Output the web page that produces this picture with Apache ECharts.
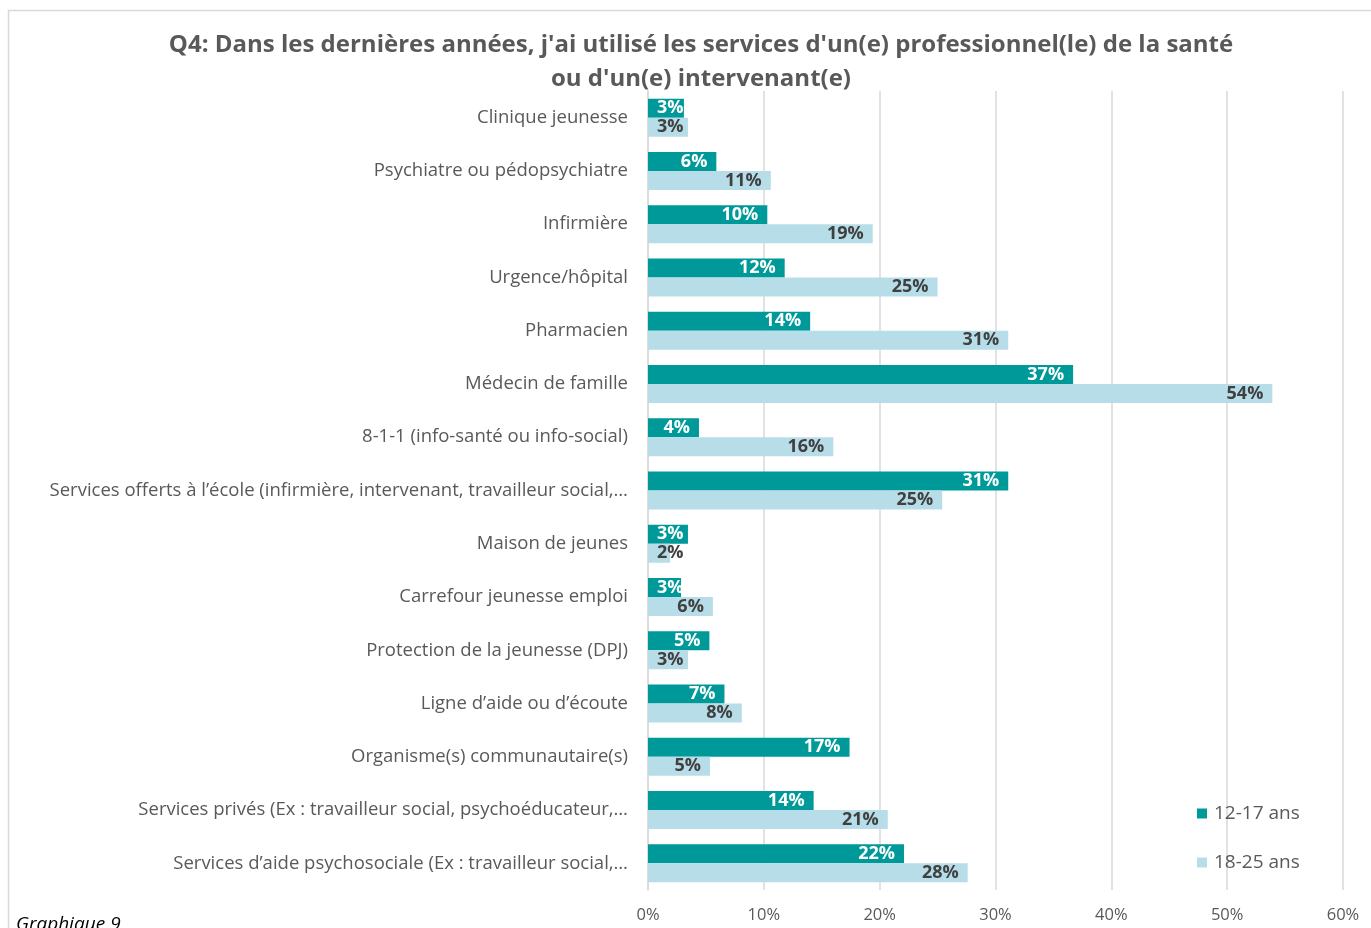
<!DOCTYPE html>
<html lang="fr">
<head>
<meta charset="utf-8">
<title>Q4 – Services utilisés</title>
<script src="https://cdn.jsdelivr.net/npm/echarts@6/dist/echarts.min.js"></script>
<style>
  html, body { margin: 0; padding: 0; background: #ffffff; }
  #chart { width: 1371px; height: 928px; }
</style>
</head>
<body>
<div id="chart"></div>
<script>
// Services, listed from top to bottom
const categories = [
  "Clinique jeunesse",
  "Psychiatre ou pédopsychiatre",
  "Infirmière",
  "Urgence/hôpital",
  "Pharmacien",
  "Médecin de famille",
  "8-1-1 (info-santé ou info-social)",
  "Services offerts à l’école (infirmière, intervenant, travailleur social,…",
  "Maison de jeunes",
  "Carrefour jeunesse emploi",
  "Protection de la jeunesse (DPJ)",
  "Ligne d’aide ou d’écoute",
  "Organisme(s) communautaire(s)",
  "Services privés (Ex : travailleur social, psychoéducateur,…",
  "Services d’aide psychosociale (Ex : travailleur social,…"
];

// Share of respondents (%) per age group
const ages12to17 = [3.1, 5.9, 10.3, 11.8, 14.0, 36.7, 4.4, 31.1, 3.45, 2.85, 5.3, 6.6, 17.4, 14.3, 22.1];
const ages18to25 = [3.45, 10.6, 19.4, 25.0, 31.1, 53.9, 16.0, 25.4, 1.9, 5.6, 3.45, 8.1, 5.35, 20.7, 27.6];

const seriesNames = ["12-17 ans", "18-25 ans"];
const axisTicks = [0, 10, 20, 30, 40, 50, 60];

const FONT = "'Open Sans', 'Noto Sans', sans-serif";
const TEXT = "#595959";

// Short bars get their label pushed from the base instead of the end
function withLabelPlacement(values) {
  return values.map(v => ({
    value: v,
    label: v < 4 ? { position: "insideLeft", distance: 9 } : { position: "insideRight", distance: 9 }
  }));
}

const chart = echarts.init(document.getElementById("chart"));
chart.setOption({
  animation: false,
  backgroundColor: "#ffffff",
  title: {
    text: "Q4: Dans les dernières années, j'ai utilisé les services d'un(e) professionnel(le) de la santé\nou d'un(e) intervenant(e)",
    left: 696,
    top: 23,
    textAlign: "center",
    textStyle: {
      fontFamily: FONT,
      fontSize: 24,
      fontWeight: "bold",
      color: TEXT,
      lineHeight: 34
    }
  },
  graphic: [
    {
      type: "rect",
      silent: true,
      shape: { x: 8.5, y: 10.5, width: 1400, height: 1000 },
      style: { fill: "none", stroke: "#d9d9d9", lineWidth: 1.5 }
    },
    {
      type: "text",
      left: 16,
      top: 915,
      style: {
        text: "Graphique 9",
        font: "italic 19px " + FONT,
        fill: "#000000"
      }
    }
  ],
  legend: {
    orient: "vertical",
    left: 1192,
    top: 799,
    icon: "rect",
    itemWidth: 10,
    itemHeight: 10,
    itemGap: 30,
    textStyle: { fontFamily: FONT, fontSize: 19, color: TEXT, padding: [0, 0, 0, 2] },
    data: seriesNames
  },
  grid: {
    left: 648,
    right: 28,
    top: 91,
    bottom: 38,
    containLabel: false
  },
  xAxis: {
    type: "value",
    min: axisTicks[0],
    max: axisTicks[axisTicks.length - 1],
    interval: axisTicks[1] - axisTicks[0],
    axisLine: { show: false },
    axisTick: { show: false },
    splitLine: { lineStyle: { color: "#d9d9d9", width: 1.5 } },
    axisLabel: {
      formatter: "{value}%",
      fontFamily: FONT,
      fontSize: 16.5,
      color: TEXT,
      margin: 17
    }
  },
  yAxis: {
    type: "category",
    inverse: true,
    data: categories,
    axisTick: { show: false },
    axisLine: { show: true, lineStyle: { color: "#d9d9d9", width: 1.5 } },
    axisLabel: {
      fontFamily: FONT,
      fontSize: 18.5,
      color: TEXT,
      margin: 20
    }
  },
  series: [
    {
      name: seriesNames[0],
      type: "bar",
      data: withLabelPlacement(ages12to17),
      barWidth: 19,
      barGap: "0%",
      itemStyle: { color: "#009999" },
      label: {
        show: true,
        formatter: p => Math.round(p.value) + "%",
        fontFamily: FONT,
        fontSize: 18,
        fontWeight: "bold",
        color: "#ffffff"
      }
    },
    {
      name: seriesNames[1],
      type: "bar",
      data: withLabelPlacement(ages18to25),
      barWidth: 19,
      barGap: "0%",
      itemStyle: { color: "#b7dde8" },
      label: {
        show: true,
        formatter: p => Math.round(p.value) + "%",
        fontFamily: FONT,
        fontSize: 18,
        fontWeight: "bold",
        color: "#404040"
      }
    }
  ]
});
</script>
</body>
</html>
